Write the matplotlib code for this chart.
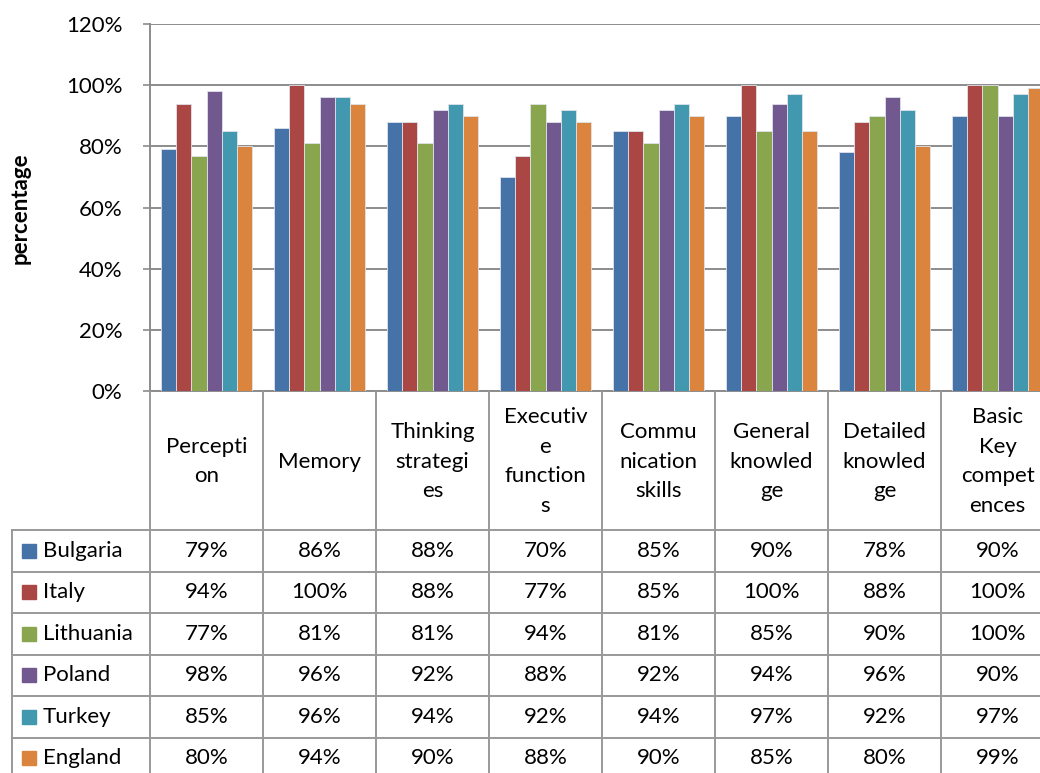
import matplotlib.pyplot as plt
import numpy as np

categories = ["Percepti\non", "Memory", "Thinking\nstrategi\nes", "Executiv\ne\nfunction\ns",
              "Commu\nnication\nskills", "General\nknowled\nge", "Detailed\nknowled\nge",
              "Basic\nKey\ncompet\nences"]
countries = ["Bulgaria", "Italy", "Lithuania", "Poland", "Turkey", "England"]
bulgaria = [79, 86, 88, 70, 85, 90, 78, 90]
italy = [94, 100, 88, 77, 85, 100, 88, 100]
lithuania = [77, 81, 81, 94, 81, 85, 90, 100]
poland = [98, 96, 92, 88, 92, 94, 96, 90]
turkey = [85, 96, 94, 92, 94, 97, 92, 97]
england = [80, 94, 90, 88, 90, 85, 80, 99]
series = [bulgaria, italy, lithuania, poland, turkey, england]
colors = ["#4572A7", "#AA4643", "#89A54E", "#71588F", "#4198AF", "#DB843D"]

plt.rcParams["font.family"] = ["Lato", "DejaVu Sans"]
FS = 16
W, H = 1040, 773
fig = plt.figure(figsize=(W / 100, H / 100), dpi=100)

# plot area in pixels (the last column runs off the right edge)
x0, col_w, y_top, y_bot = 150, 113, 24, 391
ncat = len(categories)
ax = fig.add_axes([x0 / W, 1 - y_bot / H, ncat * col_w / W, (y_bot - y_top) / H])

x = np.arange(ncat)
bw = 1 / 7.5
for i, (vals, c) in enumerate(zip(series, colors)):
    ax.bar(x + (i - 2.5) * bw, vals, bw, color=c, edgecolor="#dfe3ea", linewidth=0.6, zorder=3)

grid = "#8c8c8c"
ax.set_xlim(-0.5, ncat - 0.5)
ax.set_ylim(0, 120)
ax.set_yticks(range(0, 121, 20))
ax.set_yticklabels([f"{v}%" for v in range(0, 121, 20)], fontsize=FS)
ax.set_xticks([])
ax.yaxis.grid(True, color=grid, linewidth=1.4, zorder=0)
ax.tick_params(axis="y", direction="out", length=5, color=grid, width=1.2, pad=15)
for s in ["top", "right"]:
    ax.spines[s].set_visible(False)
for s in ["left", "bottom"]:
    ax.spines[s].set_color(grid)
    ax.spines[s].set_linewidth(1.4)

# data table drawn underneath in pixel coordinates
ov = fig.add_axes([0, 0, 1, 1], zorder=5)
ov.set_xlim(0, W)
ov.set_ylim(H, 0)
ov.axis("off")
tcol = "#999999"
lw = 1.4
hdr_bot, row_h, left = 530, 41.5, 12
nrows = len(countries)
table_bot = hdr_bot + row_h * nrows
for k in range(ncat + 1):
    ov.plot([x0 + k * col_w] * 2, [y_bot, table_bot], color=tcol, lw=lw, solid_capstyle="butt")
ov.plot([left, left], [hdr_bot, table_bot], color=tcol, lw=lw)
for r in range(nrows + 1):
    yy = hdr_bot + r * row_h
    ov.plot([left, x0 + ncat * col_w], [yy, yy], color=tcol, lw=lw)

for j, cat in enumerate(categories):
    ov.text(x0 + (j + 0.5) * col_w, (y_bot + hdr_bot) / 2 + 1, cat, ha="center", va="center",
            fontsize=FS, linespacing=1.62)

for r, (name, vals, c) in enumerate(zip(countries, series, colors)):
    yc = hdr_bot + (r + 0.5) * row_h
    ov.add_patch(plt.Rectangle((22, yc - 7), 14, 14, color=c))
    ov.text(43, yc, name, ha="left", va="center", fontsize=FS)
    for j, v in enumerate(vals):
        ov.text(x0 + (j + 0.5) * col_w, yc, f"{v}%", ha="center", va="center", fontsize=FS)

ov.text(20, 208, "percentage", rotation=90, ha="center", va="center", fontsize=16,
        fontweight="bold")

fig.savefig("out.png", dpi=100)
